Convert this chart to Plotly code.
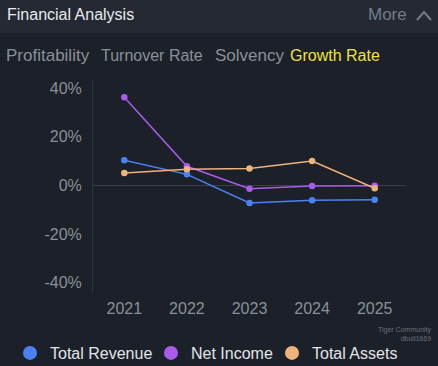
import plotly.graph_objects as go

years = ["2021", "2022", "2023", "2024", "2025"]
total_revenue = [10.3, 4.5, -7.3, -6.2, -6.0]
net_income = [36.2, 7.8, -1.4, -0.3, -0.2]
total_assets = [5.1, 6.6, 6.9, 10.0, -1.2]
y_ticks = [-40, -20, 0, 20, 40]
y_tick_labels = ["-40%", "-20%", "0%", "20%", "40%"]
tabs = ["Profitability", "Turnover Rate", "Solvency", "Growth Rate"]

series = [
    ("Total Revenue", total_revenue, "#4a82f5"),
    ("Net Income", net_income, "#a95cec"),
    ("Total Assets", total_assets, "#eeb27c"),
]
legend_ids = ["legend", "legend2", "legend3"]
legend_left_px = [10, 151, 272]

FONT = "Liberation Sans, Arial, sans-serif"
fig = go.Figure()
for name, vals, col in series:
    fig.add_trace(go.Scatter(
        x=years, y=vals, mode="lines+markers", name=name, showlegend=False,
        line=dict(color=col, width=1.5), marker=dict(color=col, size=6.5),
        hoverinfo="skip"))
for (name, vals, col), lid in zip(series, legend_ids):
    fig.add_trace(go.Scatter(
        x=[None], y=[None], mode="markers", name=name, legend=lid,
        marker=dict(color=col, size=14)))

legend_common = dict(orientation="h", xanchor="left", xref="container",
                     y=(366-353)/366, yanchor="middle", yref="container",
                     font=dict(size=16, color="#e2e5ea"),
                     itemwidth=30, tracegroupgap=0, bgcolor="rgba(0,0,0,0)")

fig.update_layout(
    width=438, height=366,
    paper_bgcolor="#1c2028", plot_bgcolor="#1c2028",
    margin=dict(l=93, r=32, t=80, b=73),
    font=dict(family=FONT, color="#8a9099", size=15),
    xaxis=dict(type="category", range=[-0.5, 4.5], showgrid=False,
               zeroline=False, showline=False, ticks="", ticklabelstandoff=4,
               tickfont=dict(size=16, color="#8a9099")),
    yaxis=dict(range=[-44.3, 43.3], tickvals=y_ticks, ticktext=y_tick_labels,
               showgrid=False, zeroline=True, zerolinecolor="#3a404b",
               zerolinewidth=1, showline=True, linecolor="#2f3540",
               linewidth=1, ticks="", ticklabelstandoff=7,
               tickfont=dict(size=16, color="#8a9099")),
    legend=dict(x=legend_left_px[0]/438, **legend_common),
    legend2=dict(x=legend_left_px[1]/438, **legend_common),
    legend3=dict(x=legend_left_px[2]/438, **legend_common),
    showlegend=True,
)

# header band
fig.add_shape(type="rect", xref="paper", yref="paper",
              x0=-93/313, x1=1+32/313, y0=1+(80-33)/213, y1=1+80/213,
              fillcolor="#242933", line_width=0, layer="below")
fig.add_annotation(text="Financial Analysis", xref="paper", yref="paper",
                   x=-88/313, y=1+(80-14)/213, xanchor="left", yanchor="middle",
                   showarrow=False, font=dict(size=16, color="#e8eaee", family=FONT))
fig.add_annotation(text="More", xref="paper", yref="paper",
                   x=(409-93)/313, y=1+(80-14)/213, xanchor="right", yanchor="middle",
                   showarrow=False, font=dict(size=17, color="#767c86", family=FONT))
# caret
fig.add_shape(type="path", xref="paper", yref="paper",
              path=f"M {(417-93)/313},{1+(80-20)/213} L {(424-93)/313},{1+(80-12)/213} L {(431-93)/313},{1+(80-20)/213}",
              line=dict(color="#767c86", width=2))

tab_x = [6, 101, 215, 290]
tab_sizes = [17, 16, 17, 16]
tab_colors = ["#8a9099", "#8a9099", "#8a9099", "#f0e23c"]
for t, xx, s, c in zip(tabs, tab_x, tab_sizes, tab_colors):
    fig.add_annotation(text=t, xref="paper", yref="paper",
                       x=(xx-93)/313 - 0.006, y=1+(80-55)/213, xanchor="left", yanchor="middle",
                       showarrow=False, font=dict(size=s, color=c, family=FONT))

# watermark
fig.add_annotation(text="Tiger Community<br>dbull1669", xref="paper", yref="paper",
                   x=(434-93)/313, y=-(334-293)/213, xanchor="right", yanchor="middle",
                   showarrow=False, align="right",
                   font=dict(size=7, color="#6a707a", family=FONT))

fig.write_html("out.html", config={"displayModeBar": False},
               post_script="document.body.style.margin='0';document.body.style.background='#1c2028';")
